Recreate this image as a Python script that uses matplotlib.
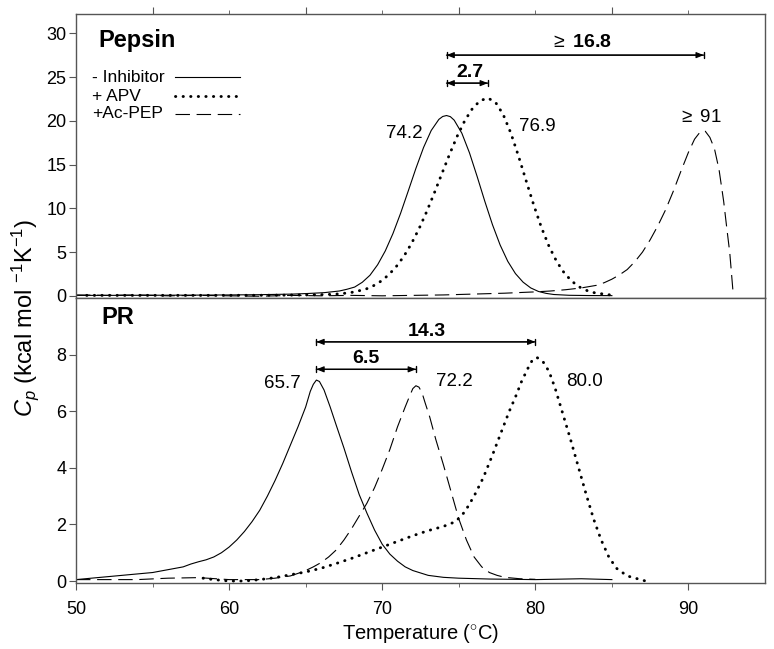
import matplotlib
matplotlib.use('Agg')
import matplotlib.pyplot as plt
from matplotlib.ticker import FixedLocator

plt.rcParams['font.family'] = ['Liberation Sans', 'DejaVu Sans']
plt.rcParams['mathtext.fontset'] = 'custom'
plt.rcParams['mathtext.rm'] = 'Liberation Sans'
plt.rcParams['mathtext.it'] = 'Liberation Sans:italic'
plt.rcParams['mathtext.bf'] = 'Liberation Sans:bold'

# ---- Pepsin (top panel) ----
pep_solid_t = [50, 52, 54, 56, 58, 60, 62, 63, 64.2, 65.2, 66.2, 67.2, 67.7, 68.2, 68.7, 69.2, 69.7,
               70.2, 70.7, 71.2, 71.7, 72.2, 72.7, 73.2, 73.7, 73.95, 74.2, 74.45, 74.7, 75.2, 75.7,
               76.2, 76.7, 77.2, 77.7, 78.2, 78.7, 79.2, 79.7, 80.2, 80.7, 81.2, 82.2, 83.5, 85]
pep_solid_cp = [0.05, 0.05, 0.06, 0.07, 0.08, 0.1, 0.13, 0.16, 0.2, 0.27, 0.36, 0.55, 0.75, 1.0, 1.55,
                2.35, 3.55, 5.13, 7.11, 9.43, 11.98, 14.56, 16.95, 18.89, 20.16, 20.49, 20.6, 20.47,
                20.07, 18.58, 16.33, 13.63, 10.8, 8.13, 5.81, 3.94, 2.54, 1.56, 0.9, 0.5, 0.28,
                0.15, 0.06, 0.03, 0.02]

pep_apv_t = [50.7, 53, 56, 59, 62, 64, 65, 66, 66.9, 67.9, 68.9, 69.4, 69.9, 70.4, 70.9, 71.4, 71.9,
             72.4, 72.9, 73.4, 73.9, 74.4, 74.9, 75.4, 75.9, 76.4, 76.9, 77.4, 77.9, 78.4, 78.9, 79.4,
             79.9, 80.4, 80.9, 81.4, 81.9, 82.4, 82.9, 83.4, 83.9, 84.9]
pep_apv_cp = [0.05, 0.05, 0.05, 0.05, 0.06, 0.08, 0.1, 0.13, 0.18, 0.35, 0.74, 1.12, 1.65, 2.36, 3.3,
              4.48, 5.94, 7.65, 9.6, 11.74, 13.97, 16.18, 18.25, 20.04, 21.42, 22.3, 22.6, 22.11,
              20.72, 18.59, 15.97, 13.14, 10.35, 7.8, 5.63, 3.9, 2.58, 1.64, 0.99, 0.58, 0.33, 0.1]

pep_pep_t = [50, 52, 54, 56, 58, 60, 62, 64, 66, 68, 70, 72, 74, 76, 78, 80, 81, 82, 83, 84, 84.5,
             85, 85.5, 86, 86.5, 87, 87.5, 88, 88.5, 89, 89.5, 90, 90.4, 90.8, 91.1, 91.4, 91.7,
             92.0, 92.3, 92.5, 92.7, 92.9]
pep_pep_cp = [0.1, 0.05, 0.1, 0.0, 0.05, 0.0, -0.05, 0.05, 0.0, 0.05, 0.0, 0.05, 0.1, 0.2, 0.3, 0.45,
              0.55, 0.7, 0.9, 1.2, 1.5, 1.9, 2.4, 3.0, 3.9, 5.0, 6.4, 8.0, 9.8, 11.9, 14.2, 16.4,
              17.9, 18.8, 18.8, 18.1, 16.8, 14.4, 10.8, 7.8, 4.9, 0.7]

# ---- PR (bottom panel) ----
pr_solid_t = [50, 51, 52, 53, 54, 55, 56, 57, 57.5, 58, 58.5, 59, 59.5, 60, 60.5, 61, 61.5, 62, 62.5,
              63, 63.5, 64, 64.5, 65, 65.3, 65.5, 65.7, 65.9, 66.2, 66.6, 67.0, 67.5, 68.0, 68.5,
              69.0, 69.5, 70.0, 70.5, 71.0, 71.5, 72, 73, 74, 75, 77, 80, 83, 85]
pr_solid_cp = [0.05, 0.1, 0.15, 0.2, 0.25, 0.3, 0.4, 0.5, 0.6, 0.68, 0.75, 0.85, 1.0, 1.2, 1.45, 1.75,
               2.1, 2.5, 3.0, 3.55, 4.15, 4.8, 5.45, 6.15, 6.7, 6.95, 7.1, 7.05, 6.75, 6.15, 5.5,
               4.7, 3.85, 3.05, 2.4, 1.8, 1.3, 0.95, 0.7, 0.5, 0.37, 0.2, 0.13, 0.1, 0.07, 0.05,
               0.08, 0.05]

pr_pep_t = [50, 52, 54, 56, 58, 60, 62, 63, 64, 64.5, 65, 65.5, 66, 66.5, 67, 67.5, 68, 68.5, 69,
            69.5, 70, 70.5, 71, 71.5, 71.8, 72.0, 72.2, 72.4, 72.6, 72.8, 73.1, 73.5, 74.0, 74.5,
            75.0, 75.5, 76.0, 76.5, 77.0, 77.5, 78, 79, 80]
pr_pep_cp = [0.05, 0.05, 0.05, 0.1, 0.12, 0.05, 0.05, 0.1, 0.18, 0.27, 0.37, 0.5, 0.65, 0.85, 1.1,
             1.45, 1.85, 2.3, 2.75, 3.3, 3.95, 4.65, 5.45, 6.15, 6.55, 6.8, 6.9, 6.85, 6.65, 6.3,
             5.8, 5.0, 4.1, 3.15, 2.2, 1.45, 0.85, 0.5, 0.3, 0.2, 0.13, 0.08, 0.06]

pr_apv_t = [58.3, 59, 60, 61, 62, 63, 64, 65, 66, 67, 68, 69, 70, 71, 72, 73, 74, 74.8, 75.4, 76,
            76.6, 77.2, 77.8, 78.3, 78.7, 79.1, 79.5, 79.8, 80.1, 80.5, 80.9, 81.3, 81.8, 82.3,
            82.8, 83.3, 83.8, 84.3, 84.8, 85.3, 86.0, 87.2]
pr_apv_cp = [0.1, 0.05, 0.0, 0.0, 0.05, 0.12, 0.22, 0.32, 0.45, 0.62, 0.8, 1.0, 1.2, 1.4, 1.6, 1.78,
             1.93, 2.1, 2.45, 3.0, 3.65, 4.45, 5.3, 6.0, 6.5, 7.05, 7.5, 7.8, 7.9, 7.75, 7.4, 6.8,
             5.9, 5.0, 4.05, 3.1, 2.2, 1.45, 0.85, 0.45, 0.18, 0.0]

legend_labels = ['- Inhibitor', '+ APV', '+Ac-PEP']

solid_kw = dict(color='black', lw=0.8, ls='-')
dot_kw = dict(color='black', lw=2.1, ls=(0, (0.1, 2.5)), dash_capstyle='round')
dash_kw = dict(color='black', lw=0.8, ls=(0, (13, 6)))

fig = plt.figure(figsize=(7.74, 6.49), dpi=100)
ax1 = fig.add_axes([76 / 774, 1 - 298 / 649, 689 / 774, 284 / 649])
ax2 = fig.add_axes([76 / 774, 1 - 583 / 649, 689 / 774, 285 / 649])

spine_col = '#555555'
for ax in (ax1, ax2):
    ax.set_xlim(50, 95)
    for s in ax.spines.values():
        s.set_color(spine_col)
        s.set_linewidth(1.0)

# top panel
ax1.plot(pep_solid_t, pep_solid_cp, **solid_kw)
ax1.plot(pep_apv_t, pep_apv_cp, **dot_kw)
ax1.plot(pep_pep_t, pep_pep_cp, **dash_kw)
ax1.set_ylim(-0.25, 32.2)
ax1.set_yticks([0, 5, 10, 15, 20, 25, 30])
ax1.xaxis.set_ticks_position('top')
ax1.xaxis.set_major_locator(FixedLocator([55, 65, 75, 85]))
ax1.xaxis.set_minor_locator(FixedLocator([60, 70, 80, 90]))
ax1.tick_params(axis='x', which='major', direction='out', length=5, color=spine_col,
                labeltop=False, labelbottom=False)
ax1.tick_params(axis='x', which='minor', direction='out', length=3, color=spine_col)
ax1.tick_params(axis='y', direction='out', length=5, pad=2, labelsize=13, color=spine_col)

# bottom panel
ax2.plot(pr_solid_t, pr_solid_cp, **solid_kw)
ax2.plot(pr_apv_t, pr_apv_cp, **dot_kw)
ax2.plot(pr_pep_t, pr_pep_cp, **dash_kw)
ax2.set_ylim(-0.07, 10.0)
ax2.set_yticks([0, 2, 4, 6, 8])
ax2.set_xticks([50, 60, 70, 80, 90])
ax2.xaxis.set_minor_locator(FixedLocator([55, 65, 75, 85]))
ax2.tick_params(axis='x', which='major', direction='out', length=5, pad=8, labelsize=13,
                color=spine_col)
ax2.tick_params(axis='x', which='minor', direction='out', length=3, color=spine_col)
ax2.tick_params(axis='y', direction='out', length=5, pad=2, labelsize=13, color=spine_col)
ax2.set_xlabel('Temperature ($^{\\circ}$C)', fontsize=14.5, labelpad=3)

fig.text(25 / 774, 1 - 318 / 649, '$C_p$ (kcal mol $^{-1}$K$^{-1}$)', rotation=90,
         ha='center', va='center', fontsize=17)

# panel titles
ax1.text(0.0885, 0.905, 'Pepsin', transform=ax1.transAxes, ha='center', va='center',
         fontsize=17, fontweight='bold')
ax2.text(0.06, 0.93, 'PR', transform=ax2.transAxes, ha='center', va='center',
         fontsize=17, fontweight='bold')

# legend drawn by hand: label left, line sample to the right
leg_y = [0.778, 0.711, 0.648]
for lab, yy, kw in zip(legend_labels, leg_y, [solid_kw, dot_kw, dash_kw]):
    ax1.text(0.023, yy, lab, transform=ax1.transAxes, ha='left', va='center', fontsize=12.5)
    ax1.plot([0.144, 0.238], [yy, yy], transform=ax1.transAxes, **kw)


def dim_arrow(ax, x0, x1, y):
    ax.annotate('', xy=(x1, y), xytext=(x0, y),
                arrowprops=dict(arrowstyle='<|-|>, head_length=0.45, head_width=0.18',
                                color='black', lw=0.8, shrinkA=0, shrinkB=0))
    ax.annotate('', xy=(x1, y), xytext=(x0, y),
                arrowprops=dict(arrowstyle='|-|, widthA=0.22, widthB=0.22',
                                color='black', lw=1.0, shrinkA=0, shrinkB=0))


# peak labels, top
ax1.text(71.47, 18.6, '74.2', ha='center', va='center', fontsize=13.5)
ax1.text(80.16, 19.3, '76.9', ha='center', va='center', fontsize=13.5)
ax1.text(90.73, 20.4, '$\\geq$ 91', ha='center', va='center', fontsize=13.5)
dim_arrow(ax1, 74.2, 91.0, 27.5)
ax1.text(83.0, 28.96, '$\\geq$ $\\mathbf{16.8}$', ha='center', va='center', fontsize=14)
dim_arrow(ax1, 74.2, 76.9, 24.3)
ax1.text(75.7, 25.5, '2.7', ha='center', va='center', fontsize=14, fontweight='bold')

# peak labels, bottom
ax2.text(63.45, 6.99, '65.7', ha='center', va='center', fontsize=13.5)
ax2.text(74.74, 7.06, '72.2', ha='center', va='center', fontsize=13.5)
ax2.text(83.2, 7.06, '80.0', ha='center', va='center', fontsize=13.5)
dim_arrow(ax2, 65.7, 80.0, 8.45)
ax2.text(72.9, 8.83, '14.3', ha='center', va='center', fontsize=14, fontweight='bold')
dim_arrow(ax2, 65.7, 72.2, 7.48)
ax2.text(68.9, 7.87, '6.5', ha='center', va='center', fontsize=14, fontweight='bold')

fig.savefig('out.png', dpi=100)
